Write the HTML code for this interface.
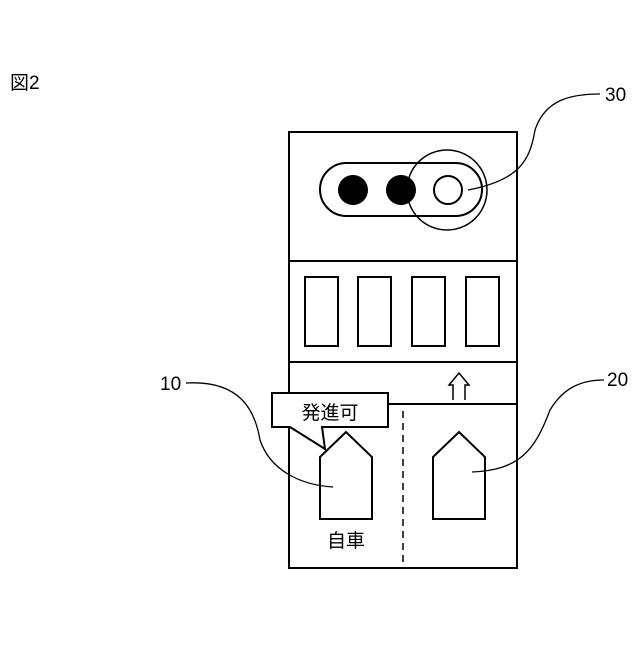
<!DOCTYPE html>
<html><head><meta charset="utf-8"><style>body{margin:0;background:#fff}</style></head><body>
<svg width="640" height="640" viewBox="0 0 640 640" xmlns="http://www.w3.org/2000/svg" font-family="'Liberation Sans','Noto Sans CJK JP',sans-serif">
<rect width="640" height="640" fill="#fff"/>
<text x="10" y="89" font-size="19">図2</text>
<g fill="none" stroke="#000" stroke-width="2">
<rect x="289" y="132" width="228" height="436"/>
<line x1="289" y1="261" x2="517" y2="261"/>
<line x1="289" y1="362" x2="517" y2="362"/>
<rect x="320" y="163" width="162" height="53" rx="26.5"/>
<rect x="305" y="277" width="33" height="69"/>
<rect x="358" y="277" width="33" height="69"/>
<rect x="412" y="277" width="33" height="69"/>
<rect x="466" y="277" width="33" height="69"/>
<line x1="388" y1="404" x2="517" y2="404"/>
<path d="M320 457 L346 432 L372 457 L372 519 L320 519 Z"/>
<path d="M433 457 L459 432 L485 457 L485 519 L433 519 Z"/>
<line x1="403" y1="411" x2="403" y2="568" stroke-dasharray="7,5" stroke-width="1.5"/>
</g>
<circle cx="353" cy="190" r="15"/>
<circle cx="401" cy="190" r="15"/>
<circle cx="448" cy="190" r="14" fill="#fff" stroke="#000" stroke-width="2"/>
<circle cx="447" cy="190" r="40" fill="none" stroke="#000" stroke-width="1.5"/>
<path d="M453 388 L453 373 L449 373 L459 361 L469 373 L465 373 L465 388" fill="#fff" stroke="#000" stroke-width="1.5" transform="translate(0,12)"/>
<path d="M272 393 L388 393 L388 427 L322 427 L325 449 L290 427 L272 427 Z" fill="#fff" stroke="#000" stroke-width="2"/>
<text x="330" y="419" font-size="19" text-anchor="middle">発進可</text>
<text x="346" y="547" font-size="19" text-anchor="middle">自車</text>
<g fill="none" stroke="#000" stroke-width="1.3">
<path d="M468 190 C520 180 530 160 535 130 C545 100 570 94 600 94"/>
<path d="M186 383 C240 380 255 410 260 440 C270 470 300 485 333 487"/>
<path d="M472 472 C520 470 535 450 550 410 C565 385 585 380 604 380"/>
</g>
<text x="605" y="101" font-size="19">30</text>
<text x="160" y="390" font-size="19">10</text>
<text x="607" y="386" font-size="19">20</text>
</svg>
</body></html>
